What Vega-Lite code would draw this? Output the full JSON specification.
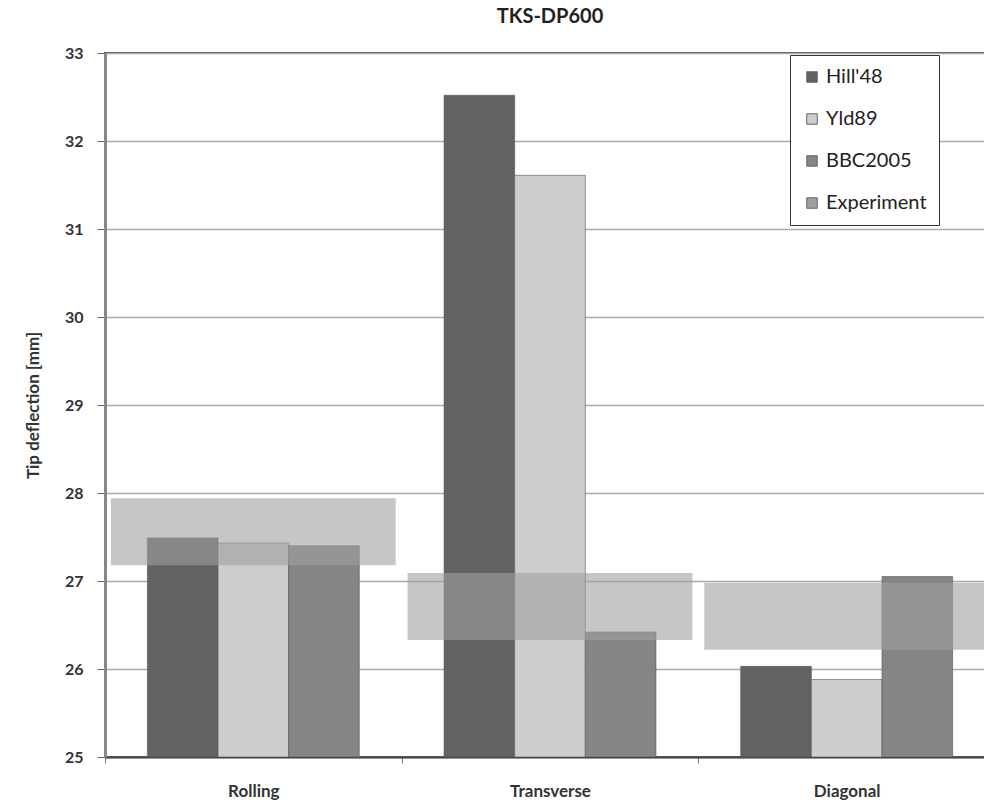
{
  "$schema": "https://vega.github.io/schema/vega-lite/v6.json",
  "width": 890,
  "height": 704,
  "autosize": {"type": "none"},
  "padding": {"left": 105, "top": 53, "right": 0, "bottom": 46},
  "background": "white",
  "title": {"text": "TKS-DP600", "font": "Lato", "fontSize": 20, "fontWeight": "bold", "color": "#222", "offset": 18},
  "datasets": {
    "bars": [
      {"dir": "Rolling", "model": "Hill'48", "value": 27.49},
      {"dir": "Rolling", "model": "Yld89", "value": 27.43},
      {"dir": "Rolling", "model": "BBC2005", "value": 27.4},
      {"dir": "Transverse", "model": "Hill'48", "value": 32.52},
      {"dir": "Transverse", "model": "Yld89", "value": 31.61},
      {"dir": "Transverse", "model": "BBC2005", "value": 26.42},
      {"dir": "Diagonal", "model": "Hill'48", "value": 26.03},
      {"dir": "Diagonal", "model": "Yld89", "value": 25.88},
      {"dir": "Diagonal", "model": "BBC2005", "value": 27.05}
    ],
    "exp": [
      {"dir": "Rolling", "lo": 27.18, "hi": 27.94},
      {"dir": "Transverse", "lo": 26.33, "hi": 27.09},
      {"dir": "Diagonal", "lo": 26.22, "hi": 26.98}
    ]
  },
  "config": {
    "view": {"stroke": "#555", "strokeWidth": 2},
    "axis": {"labelFont": "Lato", "labelFontWeight": "bold", "labelFontSize": 16, "labelColor": "#333", "titleFont": "Lato", "titleFontWeight": "bold", "titleFontSize": 17, "titleColor": "#333"}
  },
  "layer": [
    {
      "data": {"name": "bars"},
      "mark": {"type": "bar", "stroke": "#555", "strokeWidth": 1, "strokeOpacity": 0.6},
      "encoding": {
        "x": {"field": "dir", "type": "nominal", "sort": ["Rolling", "Transverse", "Diagonal"],
              "scale": {"paddingInner": 0, "paddingOuter": 0},
              "axis": {"title": null, "labelAngle": 0, "labelPadding": 20, "labelFontSize": 17, "tickBand": "extent", "tickSize": 6, "tickColor": "#777", "domainColor": "#444", "domainWidth": 2, "grid": false}},
        "xOffset": {"field": "model", "type": "nominal", "sort": ["Hill'48", "Yld89", "BBC2005"], "scale": {"paddingInner": 0, "paddingOuter": 0.6}},
        "y": {"field": "value", "type": "quantitative",
              "scale": {"domain": [25, 33], "zero": false, "nice": false},
              "axis": {"title": "Tip deflection [mm]", "values": [25, 26, 27, 28, 29, 30, 31, 32, 33], "format": "d", "labelPadding": 14, "titlePadding": 22, "tickSize": 8, "tickColor": "#666", "domainColor": "#888", "domainWidth": 3, "gridColor": "#aaa", "gridWidth": 1.5}},
        "y2": {"datum": 25},
        "color": {"field": "model", "type": "nominal",
                  "scale": {"domain": ["Hill'48", "Yld89", "BBC2005", "Experiment"], "range": ["#626262", "#cdcdcd", "#858585", "#a0a0a0"]},
                  "legend": {"title": null, "orient": "none", "legendX": 685, "legendY": 2, "fillColor": "white", "strokeColor": "#333", "padding": 12, "symbolType": "square", "symbolSize": 110, "symbolOpacity": 1, "symbolStrokeColor": "#666", "symbolStrokeWidth": 1, "labelFont": "Lato", "labelFontSize": 20, "labelColor": "#222", "rowPadding": 22,
                    "encode": {"symbols": {"update": {"opacity": {"value": 1}, "fillOpacity": {"value": 1}}}}}}
      }
    },
    {
      "data": {"name": "exp"},
      "mark": {"type": "bar", "opacity": 0.6, "width": {"band": 0.96}},
      "encoding": {
        "x": {"field": "dir", "type": "nominal", "sort": ["Rolling", "Transverse", "Diagonal"]},
        "y": {"field": "hi", "type": "quantitative"},
        "y2": {"field": "lo"},
        "color": {"datum": "Experiment"}
      }
    }
  ]
}
